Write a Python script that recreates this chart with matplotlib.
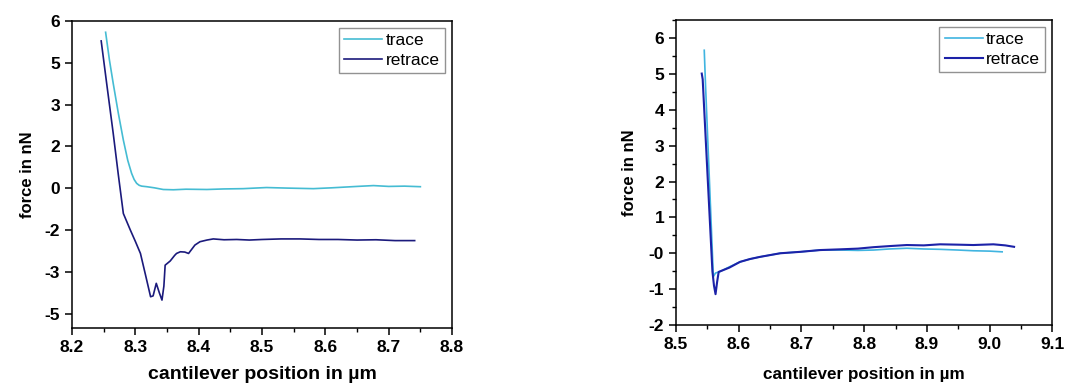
import numpy as np
import matplotlib.pyplot as plt
from matplotlib.ticker import MultipleLocator, FixedLocator

plt.rcParams['font.family'] = ['Liberation Sans', 'DejaVu Sans']

# left panel: force curve 1
l_trace_x = [8.253, 8.259, 8.265, 8.273, 8.281, 8.288, 8.294, 8.298, 8.302, 8.306, 8.310, 8.318, 8.330, 8.344,
             8.360, 8.380, 8.413, 8.440, 8.470, 8.507, 8.540, 8.581, 8.610, 8.650, 8.676, 8.700, 8.725, 8.750]
l_trace_y = [5.59, 4.60, 3.76, 2.70, 1.73, 1.00, 0.54, 0.32, 0.18, 0.11, 0.08, 0.06, 0.02, -0.04,
             -0.05, -0.03, -0.04, -0.02, -0.01, 0.03, 0.01, -0.01, 0.02, 0.07, 0.10, 0.07, 0.08, 0.06]
l_retrace_x = [8.246, 8.255, 8.265, 8.273, 8.281, 8.292, 8.300, 8.308, 8.316, 8.324, 8.328, 8.333,
               8.338, 8.342, 8.345, 8.347, 8.355, 8.362, 8.365, 8.371, 8.378, 8.384, 8.390, 8.394,
               8.402, 8.413, 8.423, 8.440, 8.460, 8.480, 8.500, 8.530, 8.560, 8.590, 8.620, 8.650,
               8.680, 8.710, 8.741]
l_retrace_y = [5.28, 3.70, 1.97, 0.50, -0.90, -1.49, -1.90, -2.33, -3.10, -3.88, -3.85, -3.40,
               -3.75, -4.00, -3.50, -2.75, -2.60, -2.40, -2.33, -2.27, -2.28, -2.33, -2.15, -2.03,
               -1.91, -1.85, -1.81, -1.84, -1.83, -1.85, -1.83, -1.81, -1.81, -1.83, -1.83, -1.85,
               -1.84, -1.87, -1.87]
l_yticks = [6, 4.5, 3, 1.5, 0, -1.5, -3, -4.5]
l_yticklabels = ['6', '5', '3', '2', '0', '-2', '-3', '-5']
l_xticks = [8.2, 8.3, 8.4, 8.5, 8.6, 8.7, 8.8]

# right panel: force curve 2
r_trace_x = [8.545, 8.547, 8.5595, 8.563, 8.570, 8.585, 8.602, 8.618, 8.634, 8.650, 8.666, 8.698,
             8.730, 8.762, 8.790, 8.815, 8.840, 8.868, 8.895, 8.921, 8.950, 8.974, 9.000, 9.020]
r_trace_y = [5.66, 4.70, -0.65, -0.55, -0.51, -0.38, -0.24, -0.16, -0.10, -0.05, 0.00, 0.04,
             0.09, 0.09, 0.08, 0.09, 0.12, 0.14, 0.12, 0.11, 0.09, 0.07, 0.06, 0.04]
r_retrace_x = [8.541, 8.5425, 8.558, 8.5605, 8.563, 8.5655, 8.568, 8.585, 8.602, 8.618, 8.634, 8.650,
               8.666, 8.698, 8.730, 8.762, 8.790, 8.815, 8.840, 8.868, 8.895, 8.921, 8.950, 8.974,
               9.006, 9.025, 9.039]
r_retrace_y = [5.01, 4.85, -0.50, -0.90, -1.14, -0.80, -0.52, -0.40, -0.24, -0.16, -0.10, -0.05,
               0.00, 0.04, 0.09, 0.11, 0.13, 0.17, 0.20, 0.23, 0.22, 0.25, 0.24, 0.23,
               0.25, 0.22, 0.18]
r_yticks = [6, 5, 4, 3, 2, 1, 0, -1, -2]
r_yticklabels = ['6', '5', '4', '3', '2', '1', '-0', '-1', '-2']
r_xticks = [8.5, 8.6, 8.7, 8.8, 8.9, 9.0, 9.1]

fig = plt.figure(figsize=(10.77, 3.84), dpi=100)
ax1 = fig.add_axes([0.0669, 0.1458, 0.3528, 0.800])
ax2 = fig.add_axes([0.6277, 0.1536, 0.3494, 0.794])

ax1.plot(l_trace_x, l_trace_y, color='#45bcd3', lw=1.2, label='trace')
ax1.plot(l_retrace_x, l_retrace_y, color='#1b1a7c', lw=1.2, label='retrace')
ax1.set_xlim(8.2, 8.8)
ax1.set_ylim(-5, 6)
ax1.set_xticks(l_xticks)
ax1.xaxis.set_minor_locator(MultipleLocator(0.05))
ax1.yaxis.set_major_locator(FixedLocator(l_yticks))
ax1.set_yticklabels(l_yticklabels)
ax1.set_xlabel('cantilever position in µm', fontsize=14, fontweight='bold', labelpad=8)
ax1.set_ylabel('force in nN', fontsize=12, fontweight='bold', labelpad=7)

ax2.plot(r_trace_x, r_trace_y, color='#40b4e0', lw=1.2, label='trace')
ax2.plot(r_retrace_x, r_retrace_y, color='#1c22a8', lw=1.5, label='retrace')
ax2.set_xlim(8.5, 9.1)
ax2.set_ylim(-2, 6.5)
ax2.set_xticks(r_xticks)
ax2.xaxis.set_minor_locator(MultipleLocator(0.05))
ax2.yaxis.set_major_locator(FixedLocator(r_yticks))
ax2.set_yticklabels(r_yticklabels)
ax2.yaxis.set_minor_locator(MultipleLocator(0.5))
ax2.set_xlabel('cantilever position in µm', fontsize=12.3, fontweight='bold', labelpad=11)
ax2.set_ylabel('force in nN', fontsize=12, fontweight='bold', labelpad=8.5)

for ax in (ax1, ax2):
    for s in ax.spines.values():
        s.set_linewidth(1.1)
    ax.tick_params(which='major', direction='out', length=5, width=1.1, labelsize=12.5)
    ax.tick_params(which='minor', direction='out', length=3, width=1.0)
    for t in ax.get_xticklabels() + ax.get_yticklabels():
        t.set_fontweight('bold')
    leg = ax.legend(loc='upper right', fontsize=12.5, frameon=True, fancybox=False,
                    handlelength=2.2, handletextpad=0.2, labelspacing=0.25,
                    borderaxespad=0.4, borderpad=0.3)
    leg.get_frame().set_edgecolor('#777777')
    leg.get_frame().set_linewidth(1.0)

fig.savefig('out.png', dpi=100)
